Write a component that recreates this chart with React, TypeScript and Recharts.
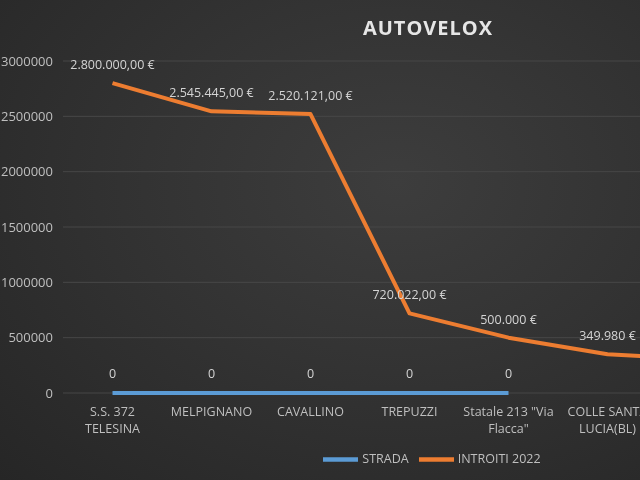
import { LineChart, Line, XAxis, YAxis, CartesianGrid, Legend, LabelList } from "recharts";

// Line breaks follow the wrapping of the original axis labels.
// Only the first six roads are visible; the seventh sits beyond the cropped right edge.
const categories = [
  "S.S. 372\nTELESINA",
  "MELPIGNANO",
  "CAVALLINO",
  "TREPUZZI",
  'Statale 213 "Via\nFlacca"',
  "COLLE SANTA\nLUCIA(BL)",
  "",
];
const strada = [0, 0, 0, 0, 0, null, null];
const introiti = [2800000, 2545445, 2520121, 720022, 500000, 349980, 305000];
const introitiLabels = [
  "2.800.000,00 €",
  "2.545.445,00 €",
  "2.520.121,00 €",
  "720.022,00 €",
  "500.000 €",
  "349.980 €",
  "305.000 €",
];
const yTicks = [0, 500000, 1000000, 1500000, 2000000, 2500000, 3000000];
const legendOrder = ["strada", "introiti"];

const data = categories.map((name, i) => ({
  name,
  strada: strada[i],
  introiti: introiti[i],
  introitiLabel: introitiLabels[i],
}));

const GREY = "#bfbfbf";
const FONT = "'Open Sans', sans-serif";

function CategoryTick({ x, y, payload }: any) {
  const lines = String(payload.value).split("\n");
  return (
    <text x={x} y={y} textAnchor="middle" fill={GREY} fontSize={12.5}>
      {lines.map((line, i) => (
        <tspan key={i} x={x} dy={i === 0 ? 9 : 17}>
          {line}
        </tspan>
      ))}
    </text>
  );
}

export default function App() {
  return (
    <div
      style={{
        position: "fixed",
        left: 0,
        top: 0,
        width: 640,
        height: 480,
        overflow: "hidden",
        fontFamily: FONT,
        background: "radial-gradient(ellipse at 62% 38%, #3d3d3d 0%, #333333 45%, #262626 100%)",
      }}
    >
      <div
        style={{
          position: "absolute",
          top: 14,
          left: 0,
          width: 856,
          textAlign: "center",
          fontSize: 20,
          lineHeight: "28px",
          fontWeight: 700,
          letterSpacing: 1,
          color: "#e6e6e6",
        }}
      >
        AUTOVELOX
      </div>
      <div style={{ position: "absolute", left: 0, top: 0 }}>
        <LineChart width={760} height={480} data={data} margin={{ top: 61, right: 4, left: 0, bottom: 0 }}>
          <CartesianGrid vertical={false} stroke="#474747" />
          <XAxis
            dataKey="name"
            axisLine={false}
            tickLine={false}
            tickSize={0}
            tickMargin={14}
            interval={0}
            height={87}
            padding={{ left: 49.5, right: 49.5 }}
            tick={<CategoryTick />}
          />
          <YAxis
            width={63}
            domain={[0, 3000000]}
            ticks={yTicks}
            axisLine={false}
            tickLine={false}
            tickSize={0}
            tickMargin={10}
            tick={{ fill: GREY, fontSize: 13 }}
          />
          <Legend
            layout="horizontal"
            verticalAlign="middle"
            align="center"
            iconSize={35}
            itemSorter={(item: any) => legendOrder.indexOf(item.dataKey)}
            wrapperStyle={{ top: 442, left: 6, width: 862, fontSize: 12.5 }}
            formatter={(value: string) => <span style={{ color: GREY }}>{value}</span>}
          />
          <Line
            dataKey="strada"
            name="STRADA"
            legendType="plainline"
            stroke="#5b9bd5"
            strokeWidth={4}
            dot={false}
            strokeLinejoin="round"
            isAnimationActive={false}
          >
            <LabelList dataKey="strada" position="top" offset={15} fill="#d4d4d4" fontSize={12.5} />
          </Line>
          <Line
            dataKey="introiti"
            name="INTROITI 2022"
            legendType="plainline"
            stroke="#ed7d31"
            strokeWidth={4}
            dot={false}
            strokeLinejoin="round"
            isAnimationActive={false}
          >
            <LabelList dataKey="introitiLabel" position="top" offset={14} fill="#d4d4d4" fontSize={12.5} />
          </Line>
        </LineChart>
      </div>
    </div>
  );
}
